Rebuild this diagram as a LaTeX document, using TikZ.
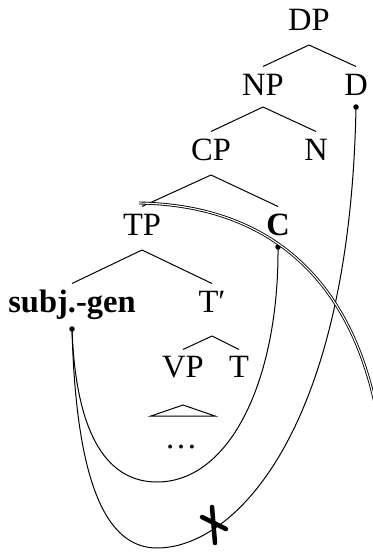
\documentclass[tikz,border=0pt]{standalone}
\usepackage{fontspec}
\setmainfont{Liberation Serif}
\usepackage{tikz}

\begin{document}
\begin{tikzpicture}[x=0.4pt, y=-0.4pt, font=\fontsize{13}{16}\selectfont,
    lab/.style={inner sep=0pt, anchor=base, text height=8.6pt, text depth=0pt},
    link/.style={line width=0.4pt}]

    % Frame of the picture
    \useasboundingbox (0,0) rectangle (373,553);

    % Labels of the tree
    \node[lab] (DP) at (309,30) {DP};
    \node[lab] (NP) at (263,95) {NP};
    \node[lab] (D) at (356,95) {D};
    \node[lab] (CP) at (211,160) {CP};
    \node[lab] (N) at (316,160) {N};
    \node[lab] (TP) at (142,235) {TP};
    \node[lab] (C) at (278,235) {\textbf{C}};
    \node[lab] (S) at (72,312) {\textbf{subj.-gen}};
    \node[lab] (Tbar) at (212,312) {T′};
    \node[lab] (VP) at (183,377) {VP};
    \node[lab] (T) at (239,377) {T};
    \node[lab] (dots) at (181,448) {\dots};

    % Branches
    \draw ([yshift=-6pt]DP.base) -- ([yshift=2.6pt]NP.north);
    \draw ([yshift=-6pt]DP.base) -- ([yshift=2.6pt]D.north);
    \draw ([yshift=-4.8pt]NP.base) -- ([yshift=2.6pt]CP.north);
    \draw ([yshift=-4.8pt]NP.base) -- ([yshift=2.6pt]N.north);
    \draw ([yshift=-6pt]CP.base) -- ([yshift=2.6pt]TP.north);
    \draw ([yshift=-6pt]CP.base) -- ([yshift=2.6pt]C.north);
    \draw ([yshift=-6pt]TP.base) -- ([yshift=2.6pt]S.north);
    \draw ([yshift=-6pt]TP.base) -- ([yshift=2.6pt]Tbar.north);
    \draw ([yshift=-9.6pt]Tbar.base) -- ([yshift=2.2pt]VP.north);
    \draw ([yshift=-9.6pt]Tbar.base) -- ([yshift=2.2pt]T.north);

    % Triangle over the dots
    \draw ([yshift=-11.2pt]VP.base) -- ++(-32,11) -- ++(64,0) -- cycle;

    % Dots where the links start
    \coordinate (dD) at ([yshift=-4.8pt]D.base);
    \coordinate (dC) at ([yshift=-4.8pt]C.base);
    \coordinate (dS) at ([yshift=-6.8pt]S.base);
    \foreach \d in {dD, dC, dS} {
        \fill (\d) circle (1.1pt);
    }

    % Link from subj.-gen up to C
    \draw[link] (dS) .. controls (76,440) and (110,482) .. (157,482)
        .. controls (230,482) and (279,380) .. (dC);

    % Link from subj.-gen up to D (crossed out)
    \draw[link] (dS) .. controls (76,480) and (105,548) .. (157,548)
        .. controls (235,548) and (350,430) .. (dD);

    % Movement of TP (double line)
    \coordinate (mv0) at (139,203);
    \coordinate (mv1) at (380,430);
    \draw[double, double distance=0.45pt, line width=0.35pt]
        (mv0) .. controls (260,205) and (355,270) .. (mv1);

    % Cross on the lower link
    \draw[line width=1.8pt, line cap=round] (202,517) -- (226,529);
    \draw[line width=1.8pt, line cap=round] (212,507) .. controls (214,525) .. (215,543);
\end{tikzpicture}
\end{document}
